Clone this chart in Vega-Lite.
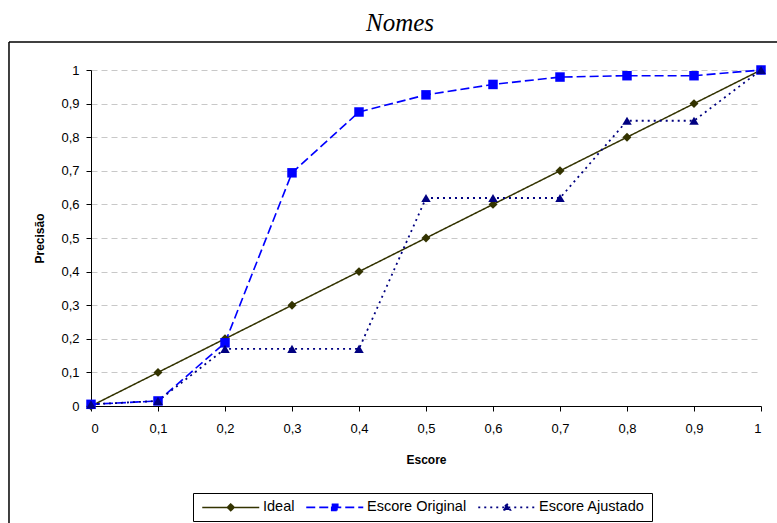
{
  "$schema": "https://vega.github.io/schema/vega-lite/v6.json",
  "width": 670,
  "height": 336,
  "autosize": "none",
  "padding": {"left": 91, "top": 70, "right": 16, "bottom": 117},
  "background": "white",
  "title": {"text": "Nomes", "font": "Liberation Serif", "fontStyle": "italic", "fontSize": 25, "fontWeight": "normal", "color": "black", "frame": "group", "offset": 5, "dx": -26},
  "datasets": {
    "frame": [{"f": 1}],
    "curves": [
    {"x": 0, "y": 0, "series": "Ideal"},
    {"x": 0.1, "y": 0.1, "series": "Ideal"},
    {"x": 0.2, "y": 0.2, "series": "Ideal"},
    {"x": 0.3, "y": 0.3, "series": "Ideal"},
    {"x": 0.4, "y": 0.4, "series": "Ideal"},
    {"x": 0.5, "y": 0.5, "series": "Ideal"},
    {"x": 0.6, "y": 0.6, "series": "Ideal"},
    {"x": 0.7, "y": 0.7, "series": "Ideal"},
    {"x": 0.8, "y": 0.8, "series": "Ideal"},
    {"x": 0.9, "y": 0.9, "series": "Ideal"},
    {"x": 1, "y": 1, "series": "Ideal"},
    {"x": 0, "y": 0.005, "series": "Escore Original"},
    {"x": 0.1, "y": 0.015, "series": "Escore Original"},
    {"x": 0.2, "y": 0.188, "series": "Escore Original"},
    {"x": 0.3, "y": 0.694, "series": "Escore Original"},
    {"x": 0.4, "y": 0.875, "series": "Escore Original"},
    {"x": 0.5, "y": 0.926, "series": "Escore Original"},
    {"x": 0.6, "y": 0.957, "series": "Escore Original"},
    {"x": 0.7, "y": 0.979, "series": "Escore Original"},
    {"x": 0.8, "y": 0.983, "series": "Escore Original"},
    {"x": 0.9, "y": 0.983, "series": "Escore Original"},
    {"x": 1, "y": 1, "series": "Escore Original"},
    {"x": 0, "y": 0.005, "series": "Escore Ajustado"},
    {"x": 0.1, "y": 0.015, "series": "Escore Ajustado"},
    {"x": 0.2, "y": 0.17, "series": "Escore Ajustado"},
    {"x": 0.3, "y": 0.17, "series": "Escore Ajustado"},
    {"x": 0.4, "y": 0.17, "series": "Escore Ajustado"},
    {"x": 0.5, "y": 0.619, "series": "Escore Ajustado"},
    {"x": 0.6, "y": 0.619, "series": "Escore Ajustado"},
    {"x": 0.7, "y": 0.619, "series": "Escore Ajustado"},
    {"x": 0.8, "y": 0.849, "series": "Escore Ajustado"},
    {"x": 0.9, "y": 0.849, "series": "Escore Ajustado"},
    {"x": 1, "y": 1, "series": "Escore Ajustado"}
  ]},
  "data": {"name": "curves"},
  "resolve": {"axis": {"x": "independent", "y": "independent"}},
  "layer": [
    {
      "mark": {"type": "line", "clip": false},
      "encoding": {
        "x": {"field": "x", "type": "quantitative", "title": "Escore",
          "scale": {"domain": [0, 1], "nice": false, "zero": false},
          "axis": {"values": [0, 0.1, 0.2, 0.3, 0.4, 0.5, 0.6, 0.7, 0.8, 0.9, 1], "grid": false,
            "labelExpr": "replace(format(datum.value, '.1~f'), '.', ',')"}},
        "y": {"field": "y", "type": "quantitative", "title": "Precisão",
          "scale": {"domain": [0, 1], "nice": false},
          "axis": {"values": [0, 0.1, 0.2, 0.3, 0.4, 0.5, 0.6, 0.7, 0.8, 0.9, 1], "grid": true,
            "labelExpr": "replace(format(datum.value, '.1~f'), '.', ',')"}},
        "color": {"field": "series", "type": "nominal",
          "scale": {"domain": ["Ideal", "Escore Original", "Escore Ajustado"], "range": ["#333300", "#0000FF", "#000080"]},
          "legend": {
            "title": null,
            "orient": "none",
            "direction": "horizontal",
            "legendX": 102,
            "legendY": 423,
            "symbolSize": 100,
            "symbolOffset": 23.5,
            "labelOffset": 25,
            "symbolStrokeWidth": 1.5,
            "encode": {"symbols": {"update": {
              "shape": {"signal": "datum.value === 'Ideal' ? 'M-5.7,0H5.7M0,-0.68L0.68,0L0,0.68L-0.68,0Z' : datum.value === 'Escore Original' ? 'M-5.7,0H5.7M-0.6,-0.6H0.6V0.6H-0.6Z' : 'M-5.7,0H5.7M0,-0.75L0.7,0.5H-0.7Z'"},
              "fill": {"scale": "color", "field": "value"},
              "fillOpacity": {"value": 1},
              "opacity": {"value": 1}
            }}}
          }},
        "strokeDash": {"field": "series", "type": "nominal",
          "scale": {"domain": ["Ideal", "Escore Original", "Escore Ajustado"], "range": [[1, 0], [9, 4], [2, 4]]}},
        "strokeWidth": {"field": "series", "type": "nominal", "legend": null,
          "scale": {"domain": ["Ideal", "Escore Original", "Escore Ajustado"], "range": [1.5, 1.8, 2]}}
      }
    },
    {
      "transform": [{"filter": "datum.series === 'Ideal'"}],
      "mark": {"type": "point", "shape": "diamond", "filled": true, "opacity": 1, "size": 80, "clip": false},
      "encoding": {
        "x": {"field": "x", "type": "quantitative", "axis": null},
        "y": {"field": "y", "type": "quantitative", "axis": null},
        "color": {"field": "series", "type": "nominal", "legend": null}}
    },
    {
      "transform": [{"filter": "datum.series === 'Escore Original'"}],
      "mark": {"type": "point", "shape": "square", "filled": true, "opacity": 1, "size": 90, "clip": false},
      "encoding": {
        "x": {"field": "x", "type": "quantitative", "axis": null},
        "y": {"field": "y", "type": "quantitative", "axis": null},
        "color": {"field": "series", "type": "nominal", "legend": null}}
    },
    {
      "transform": [{"filter": "datum.series === 'Escore Ajustado'"}],
      "mark": {"type": "point", "shape": "triangle-up", "filled": true, "opacity": 1, "size": 90, "clip": false},
      "encoding": {
        "x": {"field": "x", "type": "quantitative", "axis": null},
        "y": {"field": "y", "type": "quantitative", "axis": null},
        "color": {"field": "series", "type": "nominal", "legend": null}}
    },
    {
      "data": {"name": "frame"},
      "mark": {"type": "rule", "stroke": "black", "strokeWidth": 1.5, "clip": false},
      "encoding": {
        "x": {"datum": -0.1224, "type": "quantitative", "axis": null},
        "x2": {"datum": 1.06},
        "y": {"datum": 1.0833, "type": "quantitative", "axis": null}
      }
    },
    {
      "data": {"name": "frame"},
      "mark": {"type": "rule", "stroke": "black", "strokeWidth": 1.5, "clip": false},
      "encoding": {
        "x": {"datum": -0.1224, "type": "quantitative", "axis": null},
        "y": {"datum": 1.0833, "type": "quantitative", "axis": null},
        "y2": {"datum": -0.45}
      }
    }
  ],
  "config": {
    "font": "Liberation Sans",
    "view": {"stroke": null},
    "axis": {
      "domainColor": "black", "domainWidth": 1, "tickColor": "black", "tickSize": 5,
      "labelFont": "Liberation Sans", "labelFontSize": 13, "labelColor": "black",
      "titleFont": "Liberation Sans", "titleFontSize": 12, "titleFontWeight": "bold", "titleColor": "black",
      "gridColor": "#c8c8c8", "gridDash": [6, 4], "gridWidth": 1
    },
    "axisX": {"labelPadding": 11, "titlePadding": 19},
    "axisY": {"labelPadding": 7, "titlePadding": 14},
    "legend": {
      "strokeColor": "black", "padding": 7, "labelFont": "Liberation Sans", "labelFontSize": 14.5, "labelColor": "black",
      "columnPadding": 7
    }
  }
}
